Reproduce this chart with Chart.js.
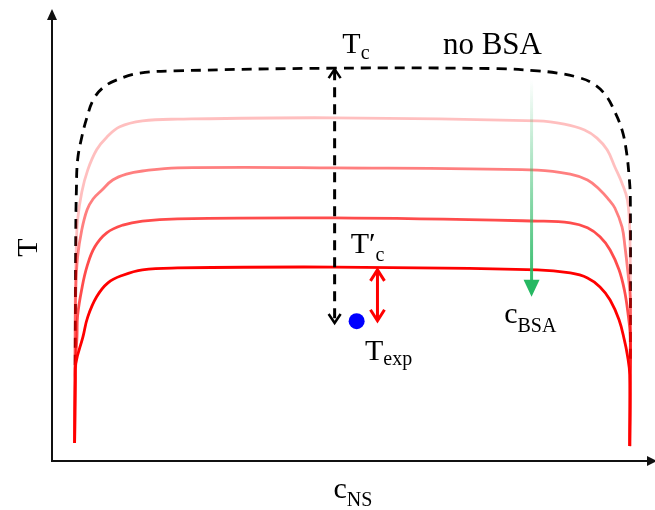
<!DOCTYPE html>
<html>
<head>
<meta charset="utf-8">
<script src="https://cdn.jsdelivr.net/npm/chart.js@4"></script>
<style>
  body { margin: 0; background: #fff; overflow: hidden; }
  canvas { display: block; }
</style>
</head>
<body>
<canvas id="chartPhase" width="655" height="510"></canvas>
<script>
// curves (x = c_NS, y = T, arbitrary 0..100 units)
var noBsaX = [3.9, 4.0, 4.1, 4.3, 5.0, 5.9, 6.9, 8.5, 10.9, 14.7, 20.6, 47.5, 74.9, 81.6, 85.0, 88.3, 90.8, 93.0, 94.6, 95.8, 96.5, 97.0, 97.2, 97.2];
var noBsaY = [21.3, 51.2, 60.1, 66.7, 71.8, 76.3, 80.0, 82.7, 84.5, 86.0, 86.5, 87.1, 87.0, 86.5, 86.0, 85.1, 83.8, 81.2, 77.4, 73.4, 69.0, 63.0, 57.9, 21.3];

var bsa1X = [3.8, 3.9, 4.1, 4.3, 5.0, 6.0, 7.5, 9.2, 11.4, 15.2, 21.1, 47.5, 81.6, 86.1, 89.5, 91.6, 93.3, 94.6, 95.8, 96.7, 97.1, 97.2, 97.1];
var bsa1Y = [4.0, 35.7, 47.9, 53.4, 59.6, 64.5, 69.0, 71.8, 74.1, 75.4, 75.8, 76.1, 75.4, 74.7, 73.4, 71.6, 69.0, 65.2, 61.6, 57.9, 51.2, 35.7, 3.3];

var bsa2X = [3.8, 3.9, 4.0, 4.3, 5.0, 5.9, 6.9, 8.4, 10.2, 12.5, 15.2, 21.1, 47.5, 81.6, 87.1, 90.0, 92.1, 93.6, 94.6, 95.8, 96.3, 96.8, 97.2, 97.2, 97.1];
var bsa2Y = [4.0, 26.8, 37.9, 45.2, 51.2, 55.7, 58.1, 60.1, 62.3, 63.6, 64.3, 65.0, 65.0, 64.5, 63.6, 62.3, 60.1, 57.9, 56.1, 51.9, 47.5, 41.7, 35.7, 24.8, 3.3];

var bsa3X = [3.8, 4.0, 4.2, 4.3, 5.0, 5.9, 7.2, 9.2, 11.9, 15.2, 21.1, 47.5, 81.6, 87.1, 90.0, 92.1, 93.8, 95.3, 96.2, 96.8, 97.2, 97.2, 97.1];
var bsa3Y = [4.0, 22.6, 27.7, 32.2, 38.1, 43.2, 47.5, 50.6, 52.3, 53.2, 53.7, 53.9, 53.2, 52.8, 51.7, 49.7, 46.8, 42.4, 37.9, 32.8, 27.5, 18.0, 3.3];

var bsa4X = [3.8, 3.9, 4.0, 5.2, 6.0, 7.5, 9.4, 11.9, 15.2, 21.1, 47.5, 81.6, 87.1, 90.0, 92.1, 93.8, 95.3, 96.2, 96.7, 97.1, 97.1];
var bsa4Y = [4.0, 17.9, 21.7, 27.5, 31.9, 36.4, 39.5, 41.2, 42.4, 42.8, 43.0, 42.4, 41.7, 40.6, 38.6, 35.7, 31.3, 26.8, 23.5, 19.1, 3.3];

// experimental point
var expX = [51.2];
var expY = [31.0];

function pts(xs, ys) {
    return xs.map(function (x, i) { return { x: x, y: ys[i] }; });
}

var serif = '"Liberation Serif", "Times New Roman", serif';

function subText(ctx, main, sub, x, y, size, subSize, drop) {
    ctx.font = size + 'px ' + serif;
    ctx.fillText(main, x, y);
    var w = ctx.measureText(main).width;
    ctx.font = subSize + 'px ' + serif;
    ctx.fillText(sub, x + w, y + drop);
}

function chevron(ctx, x, y, dir, half, depth) {
    // dir -1 = points up, 1 = points down
    ctx.beginPath();
    ctx.moveTo(x - half, y - dir * depth);
    ctx.lineTo(x, y);
    ctx.lineTo(x + half, y - dir * depth);
    ctx.stroke();
}

var axesArrows = {
    id: 'axesArrows',
    beforeDatasetsDraw: function (chart) {
        var ctx = chart.ctx, a = chart.chartArea;
        ctx.save();
        ctx.strokeStyle = '#111';
        ctx.fillStyle = '#111';
        ctx.lineWidth = 2;
        ctx.beginPath();
        ctx.moveTo(a.left, a.top + 8);
        ctx.lineTo(a.left, a.bottom);
        ctx.lineTo(a.right + 2, a.bottom);
        ctx.stroke();
        // arrow heads
        ctx.beginPath();
        ctx.moveTo(a.left, a.top - 1);
        ctx.lineTo(a.left - 5, a.top + 10);
        ctx.lineTo(a.left + 5, a.top + 10);
        ctx.fill();
        ctx.beginPath();
        ctx.moveTo(a.right + 10, a.bottom);
        ctx.lineTo(a.right, a.bottom - 5);
        ctx.lineTo(a.right, a.bottom + 5);
        ctx.fill();
        ctx.restore();
    }
};

var notes = {
    id: 'notes',
    afterDatasetsDraw: function (chart) {
        var ctx = chart.ctx, xs = chart.scales.x, ys = chart.scales.y, a = chart.chartArea;
        ctx.save();

        // black dashed arrow: Tc -> Texp
        var bx = xs.getPixelForValue(47.5);
        var bTop = ys.getPixelForValue(87.1), bBot = ys.getPixelForValue(30.6);
        ctx.strokeStyle = '#000';
        ctx.lineWidth = 3;
        ctx.setLineDash([10, 7]);
        ctx.beginPath();
        ctx.moveTo(bx, bTop + 2);
        ctx.lineTo(bx, bBot - 2);
        ctx.stroke();
        ctx.setLineDash([]);
        ctx.lineWidth = 2.5;
        chevron(ctx, bx, bTop + 1, -1, 6, 9);
        chevron(ctx, bx, bBot, 1, 6, 9);

        // red arrow: T'c -> Texp
        var rx = xs.getPixelForValue(54.7);
        var rTop = ys.getPixelForValue(42.6), rBot = ys.getPixelForValue(31.1);
        ctx.strokeStyle = '#ff0000';
        ctx.lineWidth = 3;
        ctx.beginPath();
        ctx.moveTo(rx, rTop + 1);
        ctx.lineTo(rx, rBot - 1);
        ctx.stroke();
        chevron(ctx, rx, rTop + 1, -1, 7, 11);
        chevron(ctx, rx, rBot, 1, 7, 11);

        // green arrow, fading in from the top
        var gx = xs.getPixelForValue(80.6);
        var gTop = ys.getPixelForValue(84.5), gTip = ys.getPixelForValue(36.4);
        var grad = ctx.createLinearGradient(0, gTop, 0, gTip);
        grad.addColorStop(0, 'rgba(38, 184, 98, 0)');
        grad.addColorStop(1, 'rgba(38, 184, 98, 1)');
        ctx.strokeStyle = grad;
        ctx.lineWidth = 3;
        ctx.beginPath();
        ctx.moveTo(gx, gTop);
        ctx.lineTo(gx, gTip - 14);
        ctx.stroke();
        ctx.fillStyle = 'rgb(38, 184, 98)';
        ctx.beginPath();
        ctx.moveTo(gx - 8, gTip - 17);
        ctx.lineTo(gx + 8, gTip - 17);
        ctx.lineTo(gx, gTip);
        ctx.fill();

        // labels
        ctx.fillStyle = '#000';
        ctx.textBaseline = 'alphabetic';
        ctx.textAlign = 'left';
        subText(ctx, 'T', 'c', xs.getPixelForValue(48.8), ys.getPixelForValue(90.4), 30, 20, 6);
        ctx.font = '31px ' + serif;
        ctx.fillText('no BSA', xs.getPixelForValue(65.7), ys.getPixelForValue(90.2));
        subText(ctx, 'T\u2032', 'c', xs.getPixelForValue(50.2), ys.getPixelForValue(46.1), 30, 20, 8);
        subText(ctx, 'T', 'exp', xs.getPixelForValue(52.6), ys.getPixelForValue(22.4), 30, 20, 5);
        subText(ctx, 'c', 'BSA', xs.getPixelForValue(76.0), ys.getPixelForValue(30.6), 30, 20, 9);

        // axis titles
        subText(ctx, 'c', 'NS', xs.getPixelForValue(47.3), a.bottom + 37, 30, 20, 8);
        ctx.save();
        ctx.translate(a.left - 15, (a.top + a.bottom) / 2 + 12);
        ctx.rotate(-Math.PI / 2);
        ctx.textAlign = 'center';
        ctx.font = '30px ' + serif;
        ctx.fillText('T', 0, 0);
        ctx.restore();

        ctx.restore();
    }
};

document.addEventListener("DOMContentLoaded", function () {
    var ctx = document.getElementById('chartPhase').getContext('2d');
    var line = function (label, xs, ys, color) {
        return {
            label: label,
            data: pts(xs, ys),
            showLine: true,
            borderColor: color,
            borderWidth: 2.8,
            pointRadius: 0,
            tension: 0.4,
            fill: false
        };
    };
    var noBsa = line('no BSA', noBsaX, noBsaY, '#000');
    noBsa.borderDash = [10, 7];

    var chart = new Chart(ctx, {
        type: 'scatter',
        data: {
            datasets: [
                {
                    label: 'Texp',
                    data: pts(expX, expY),
                    pointRadius: 8,
                    pointBackgroundColor: '#0000ff',
                    pointBorderWidth: 0
                },
                line('BSA 4', bsa4X, bsa4Y, 'rgba(255, 0, 0, 1)'),
                line('BSA 3', bsa3X, bsa3Y, 'rgba(255, 0, 0, 0.7)'),
                line('BSA 2', bsa2X, bsa2Y, 'rgba(255, 0, 0, 0.5)'),
                line('BSA 1', bsa1X, bsa1Y, 'rgba(255, 0, 0, 0.25)'),
                noBsa
            ]
        },
        options: {
            responsive: false,
            animation: false,
            layout: { padding: { left: 52, right: 5, top: 10, bottom: 49 } },
            plugins: {
                legend: { display: false },
                tooltip: { enabled: false }
            },
            scales: {
                x: { type: 'linear', min: 0, max: 100, display: false },
                y: { type: 'linear', min: 0, max: 100, display: false }
            }
        },
        plugins: [axesArrows, notes]
    });
});
</script>
</body>
</html>
